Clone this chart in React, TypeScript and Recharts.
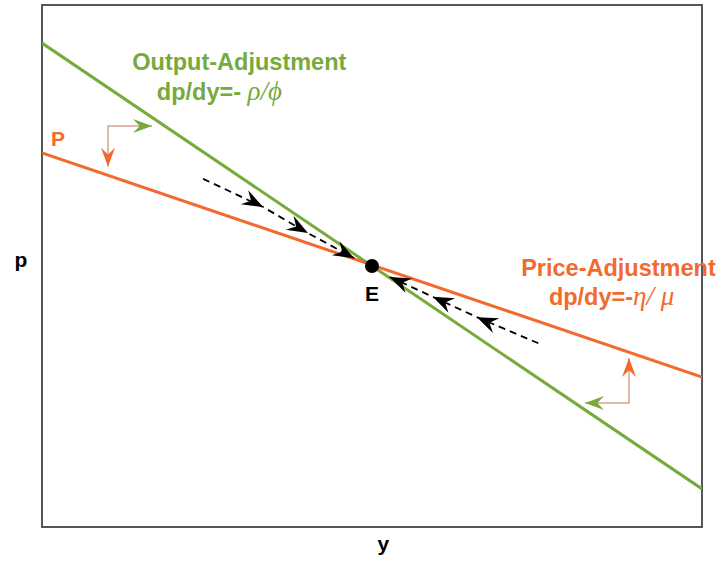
import React from "react";
import { ComposedChart, Line, Scatter, XAxis, YAxis, ReferenceArea, ReferenceDot } from "recharts";

// curves (y = output on the x-axis, p = price on the y-axis)
const outputAdjustment = [
  { y: 0, p: 9.27 },
  { y: 10, p: 0.73 },
];
const priceAdjustment = [
  { y: 0, p: 7.165 },
  { y: 10, p: 2.874 },
];
const equilibrium = [{ y: 5, p: 5 }];

// dashed paths converging on E (vertices carry the arrowheads)
const pathFromLeft = [
  { y: 2.44, p: 6.67 },
  { y: 3.35, p: 6.13 },
  { y: 4.03, p: 5.63 },
  { y: 4.73, p: 5.15 },
];
const pathFromRight = [
  { y: 7.52, p: 3.52 },
  { y: 6.59, p: 4.02 },
  { y: 5.92, p: 4.41 },
  { y: 5.27, p: 4.79 },
];

// bent shift arrows: orange tip -> corner -> green tip
const shiftUpperLeft = [
  { y: 1.0, p: 6.9 },
  { y: 1.0, p: 7.68 },
  { y: 1.667, p: 7.68 },
];
const shiftLowerRight = [
  { y: 8.894, p: 3.238 },
  { y: 8.894, p: 2.375 },
  { y: 8.227, p: 2.375 },
];

const GREEN = "#77aa3c";
const ORANGE = "#f26a2d";
const FONT = "'Liberation Sans', Arial, sans-serif";
const GREEK = "'Liberation Serif', 'DejaVu Serif', serif";

const textMark = (render: (x: number, y: number) => React.ReactNode) => (props: any) =>
  <g>{render(props.cx, props.cy)}</g>;

const Arrow = ({ id, color, len, half, dir }: { id: string; color: string; len: number; half: number; dir: string }) => (
  <marker
    id={id}
    markerUnits="userSpaceOnUse"
    markerWidth={len}
    markerHeight={half * 2}
    refX={len}
    refY={half}
    orient={dir}
    overflow="visible"
  >
    <path d={`M0,0 L${len},${half} L0,${half * 2} L${len * 0.35},${half} Z`} fill={color} />
  </marker>
);

export default function App() {
  return (
    <div style={{ position: "absolute", left: 0, top: 0, background: "#fff" }}>
      <ComposedChart width={721} height={562} margin={{ top: 5, right: 19, bottom: 35, left: 42 }}>
        <defs>
          <Arrow id="arrBlack" color="#000" len={21} half={8} dir="auto" />
          <Arrow id="arrGreen" color={GREEN} len={19} half={7} dir="auto" />
          <Arrow id="arrOrange" color={ORANGE} len={19} half={7} dir="auto-start-reverse" />
        </defs>
        <XAxis type="number" dataKey="y" domain={[0, 10]} hide allowDataOverflow />
        <YAxis type="number" dataKey="p" domain={[0, 10]} hide allowDataOverflow />
        <ReferenceArea x1={0} x2={10} y1={0} y2={10} fill="none" stroke="#555" strokeWidth={2} ifOverflow="visible" />

        <Line data={outputAdjustment} dataKey="p" stroke={GREEN} strokeWidth={3} dot={false} activeDot={false} isAnimationActive={false} />
        <Line data={priceAdjustment} dataKey="p" stroke={ORANGE} strokeWidth={3} dot={false} activeDot={false} isAnimationActive={false} />

        <Line data={pathFromLeft} dataKey="p" stroke="#000" strokeWidth={1.8} strokeDasharray="7 5" dot={false} activeDot={false}
          markerMid="url(#arrBlack)" markerEnd="url(#arrBlack)" isAnimationActive={false} />
        <Line data={pathFromRight} dataKey="p" stroke="#000" strokeWidth={1.8} strokeDasharray="7 5" dot={false} activeDot={false}
          markerMid="url(#arrBlack)" markerEnd="url(#arrBlack)" isAnimationActive={false} />

        <Line data={shiftUpperLeft} dataKey="p" stroke="#d9a58c" strokeWidth={1.5} dot={false} activeDot={false}
          markerStart="url(#arrOrange)" markerEnd="url(#arrGreen)" isAnimationActive={false} />
        <Line data={shiftLowerRight} dataKey="p" stroke="#d9a58c" strokeWidth={1.5} dot={false} activeDot={false}
          markerStart="url(#arrOrange)" markerEnd="url(#arrGreen)" isAnimationActive={false} />

        <Scatter data={equilibrium} dataKey="p" fill="#000" isAnimationActive={false}
          shape={(s: any) => <circle cx={s.cx} cy={s.cy} r={7} fill="#000" />} />

        <ReferenceDot x={2.99} y={8.75} r={0} ifOverflow="visible" shape={textMark((x, y) => (
          <text x={x} y={y} textAnchor="middle" fill={GREEN} fontFamily={FONT} fontWeight="bold" fontSize={23.5}>Output-Adjustment</text>
        ))} />
        <ReferenceDot x={1.74} y={8.18} r={0} ifOverflow="visible" shape={textMark((x, y) => (
          <text x={x} y={y} fill={GREEN} fontFamily={FONT} fontWeight="bold" fontSize={23.5}>
            dp/dy=-{"\u00a0"}<tspan fontFamily={GREEK} fontStyle="italic" fontWeight="normal" fontSize={27}>ρ/ϕ</tspan>
          </text>
        ))} />
        <ReferenceDot x={7.26} y={4.81} r={0} ifOverflow="visible" shape={textMark((x, y) => (
          <text x={x} y={y} fill={ORANGE} fontFamily={FONT} fontWeight="bold" fontSize={23.5}>Price-Adjustment</text>
        ))} />
        <ReferenceDot x={7.68} y={4.25} r={0} ifOverflow="visible" shape={textMark((x, y) => (
          <text x={x} y={y} fill={ORANGE} fontFamily={FONT} fontWeight="bold" fontSize={23.5}>
            dp/dy=-<tspan fontFamily={GREEK} fontStyle="italic" fontWeight="normal" fontSize={27}>η/ μ</tspan>
          </text>
        ))} />
        <ReferenceDot x={0.136} y={7.3} r={0} ifOverflow="visible" shape={textMark((x, y) => (
          <text x={x} y={y} fill={ORANGE} fontFamily={FONT} fontWeight="bold" fontSize={21}>P</text>
        ))} />
        <ReferenceDot x={5} y={4.33} r={0} ifOverflow="visible" shape={textMark((x, y) => (
          <text x={x} y={y} textAnchor="middle" fill="#000" fontFamily={FONT} fontWeight="bold" fontSize={21}>E</text>
        ))} />
        <ReferenceDot x={-0.318} y={4.98} r={0} ifOverflow="visible" shape={textMark((x, y) => (
          <text x={x} y={y} textAnchor="middle" fill="#000" fontFamily={FONT} fontWeight="bold" fontSize={21}>p</text>
        ))} />
        <ReferenceDot x={5.17} y={-0.46} r={0} ifOverflow="visible" shape={textMark((x, y) => (
          <text x={x} y={y} textAnchor="middle" fill="#000" fontFamily={FONT} fontWeight="bold" fontSize={21}>y</text>
        ))} />
      </ComposedChart>
    </div>
  );
}
